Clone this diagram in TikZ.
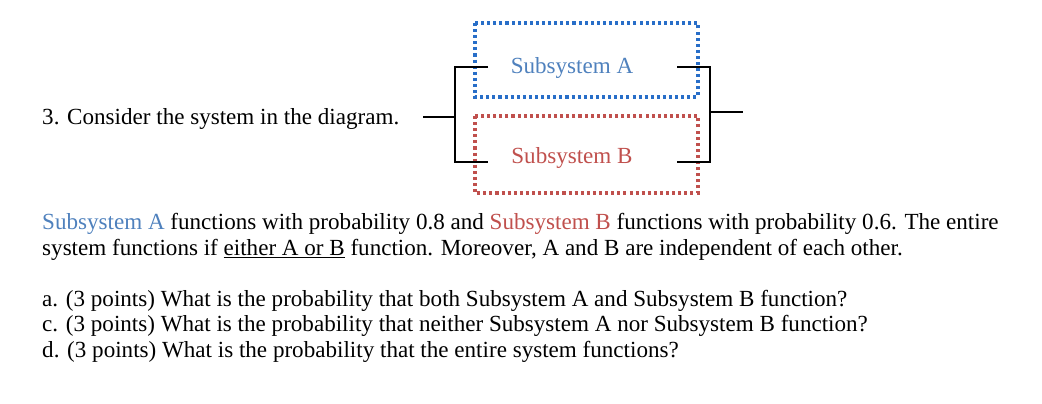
\documentclass[tikz,border=0pt]{standalone}
\usepackage{fontspec}
\setmainfont{Liberation Serif}
\definecolor{subA}{RGB}{79,129,189}
\definecolor{subB}{RGB}{192,80,77}
\definecolor{boxA}{RGB}{40,110,200}
\tikzset{
  wire/.style={line width=0.9pt},
  sysbox/.style={line width=2.8pt, dash pattern=on 2.6pt off 2.6pt},
  txt/.style={anchor=west, inner sep=0pt, font=\fontsize{19.7}{23}\selectfont}
}
\begin{document}
\begin{tikzpicture}[x=0.03cm,y=-0.03cm]
	\useasboundingbox (0,0) rectangle (1042,404);
	% subsystem boxes
	\draw[sysbox, boxA] (475,23) rectangle (698,97);
	\draw[sysbox, subB] (475,116) rectangle (698,193);
	\node[txt, anchor=center, text=subA] (A) at (572,68) {Subsystem A};
	\node[txt, anchor=center, text=subB] (B) at (572,158) {Subsystem B};

	% wiring
	\coordinate (in) at (423,117);
	\coordinate (out) at (743,112);
	\draw[wire] (in) -- (455,117);
	\draw[wire] (488,67) -- (455,67) -- (455,162) -- (488,162);
	\draw[wire] (677,67) -- (710,67) -- (710,162) -- (677,162);
	\draw[wire] (710,112) -- (out);

	% text
	\node[txt] (q) at (42,119) {3. Consider the system in the diagram.};
	\node[txt] (p1) at (42,224) {\textcolor{subA}{Subsystem A} functions with probability 0.8 and \textcolor{subB}{Subsystem B} functions with probability 0.6. The entire};
	\node[txt] (p2) at (42,250) {system functions if \underline{either A or B} function. Moreover, A and B are independent of each other.};
	\node[txt] (qa) at (42,301) {a. (3 points) What is the probability that both Subsystem A and Subsystem B function?};
	\node[txt] (qc) at (42,326) {c. (3 points) What is the probability that neither Subsystem A nor Subsystem B function?};
	\node[txt] (qd) at (42,352) {d. (3 points) What is the probability that the entire system functions?};
\end{tikzpicture}
\end{document}
